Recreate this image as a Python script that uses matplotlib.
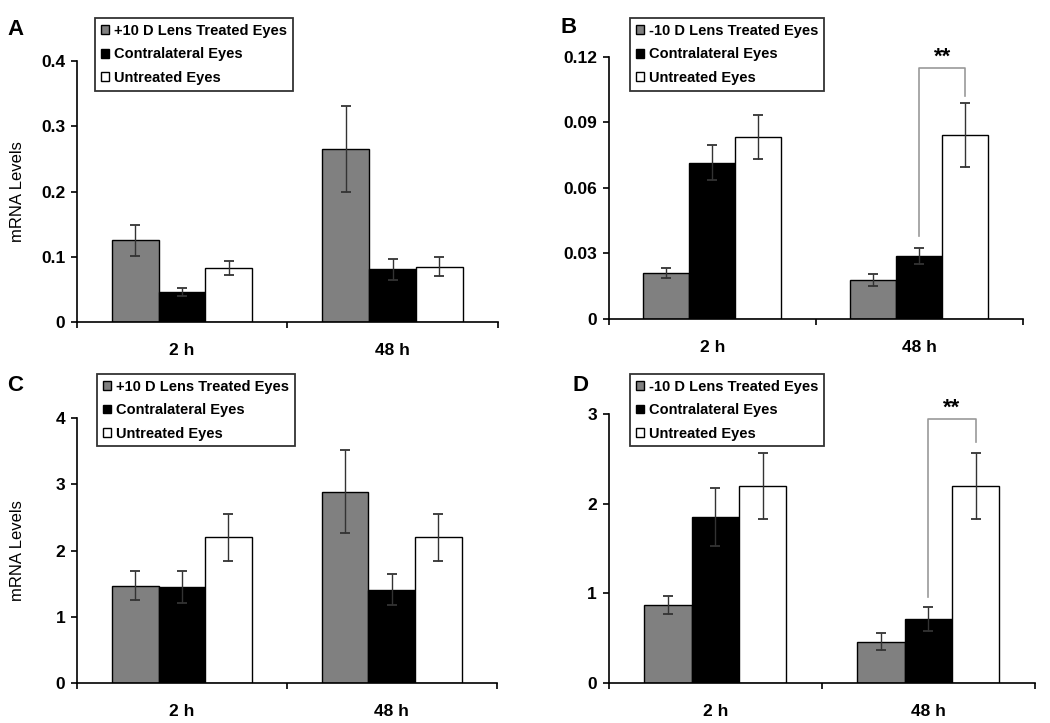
import numpy as np
import matplotlib
matplotlib.use('Agg')
from matplotlib import pyplot as plt

plt.rcParams['font.family'] = ['Liberation Sans', 'DejaVu Sans']

groups = ['2 h', '48 h']
series = ['Treated', 'Contralateral Eyes', 'Untreated Eyes']
colors = ['#808080', '#000000', '#ffffff']

# panel A
a_treated = [0.125, 0.265]
a_treated_err = [0.024, 0.066]
a_contra = [0.046, 0.081]
a_contra_err = [0.006, 0.016]
a_untreated = [0.083, 0.085]
a_untreated_err = [0.011, 0.014]

# panel B
b_treated = [0.021, 0.018]
b_treated_err = [0.0024, 0.0027]
b_contra = [0.0716, 0.0289]
b_contra_err = [0.008, 0.0038]
b_untreated = [0.0835, 0.0843]
b_untreated_err = [0.010, 0.0145]

# panel C
c_treated = [1.47, 2.89]
c_treated_err = [0.22, 0.63]
c_contra = [1.45, 1.41]
c_contra_err = [0.24, 0.23]
c_untreated = [2.2, 2.2]
c_untreated_err = [0.36, 0.36]

# panel D
d_treated = [0.87, 0.46]
d_treated_err = [0.10, 0.10]
d_contra = [1.85, 0.71]
d_contra_err = [0.32, 0.13]
d_untreated = [2.2, 2.2]
d_untreated_err = [0.37, 0.37]

# significance brackets: (top, left leg bottom, right leg bottom)
b_bracket = [0.1148, 0.038, 0.1023]
d_bracket = [2.944, 0.96, 2.69]

plus_label = '+10 D Lens Treated Eyes'
minus_label = '-10 D Lens Treated Eyes'


def draw_panel(rect, letter, vals, errs, ylim, yticks, yticklabels, treated_label,
               legend_xy, ylabel=None, bracket=None, letter_xy=None):
    ax = fig.add_axes(rect)
    w = 0.222
    x = np.array([0.5, 1.5])
    handles = []
    labels = [treated_label, series[1], series[2]]
    for i in range(3):
        xi = x + (i - 1) * w
        b = ax.bar(xi, vals[i], width=w, color=colors[i], edgecolor='black',
                   linewidth=1.0, zorder=2)
        ax.errorbar(xi, vals[i], yerr=errs[i], fmt='none', ecolor='#333333',
                    elinewidth=1.0, capsize=3.5, capthick=1.3, zorder=3)
        handles.append(b)
    ax.set_xlim(0, 2)
    ax.set_ylim(*ylim)
    ax.set_yticks(yticks)
    ax.set_yticklabels(yticklabels, fontsize=12.5, fontweight='bold')
    ax.set_xticks([0, 1, 2])
    ax.set_xticklabels([])
    ax.set_xticks(x, minor=True)
    ax.set_xticklabels(groups, minor=True, fontsize=12.5, fontweight='bold')
    ax.tick_params(axis='x', which='minor', length=0, pad=15)
    ax.tick_params(axis='x', which='major', length=4.5, width=1.2, direction='out')
    ax.tick_params(axis='y', length=4.5, width=1.2, direction='out', pad=4)
    for s in ['top', 'right']:
        ax.spines[s].set_visible(False)
    for s in ['left', 'bottom']:
        ax.spines[s].set_linewidth(1.2)
    if ylabel:
        ax.set_ylabel(ylabel, fontsize=12)
        ax.yaxis.set_label_coords(-0.124, 0.5)
    if bracket is not None:
        top, lb, rb = bracket
        xl = x[1]
        xr = x[1] + w
        ax.plot([xl, xl, xr, xr], [lb, top, top, rb], color='#999999',
                linewidth=1.2, zorder=1, clip_on=False)
        ax.text((xl + xr) / 2, top + (ylim[1] - ylim[0]) * 0.002, '**',
                ha='center', va='bottom', fontsize=16, fontweight='bold',
                clip_on=False)
    fig.text(letter_xy[0], letter_xy[1], letter, fontsize=16, fontweight='bold',
             ha='left', va='top')
    leg = fig.legend(handles, labels, loc='upper left', bbox_to_anchor=legend_xy,
                     frameon=True, fancybox=False, edgecolor='black',
                     prop={'weight': 'bold', 'size': 10.5}, handlelength=0.55,
                     handleheight=0.55, handletextpad=0.35, borderpad=0.4,
                     labelspacing=0.65, borderaxespad=0)
    leg.get_frame().set_linewidth(1.3)
    return ax


fig = plt.figure(figsize=(10.5, 7.23), dpi=100)

draw_panel([0.0733, 0.5546, 0.4007, 0.361], 'A',
           [a_treated, a_contra, a_untreated],
           [a_treated_err, a_contra_err, a_untreated_err],
           (0, 0.4), [0, 0.1, 0.2, 0.3, 0.4], ['0', '0.1', '0.2', '0.3', '0.4'],
           plus_label, (0.0905, 0.975), ylabel='mRNA Levels',
           letter_xy=(0.007, 0.974))

draw_panel([0.5797, 0.5588, 0.3946, 0.3624], 'B',
           [b_treated, b_contra, b_untreated],
           [b_treated_err, b_contra_err, b_untreated_err],
           (0, 0.12), [0, 0.03, 0.06, 0.09, 0.12], ['0', '0.03', '0.06', '0.09', '0.12'],
           minus_label, (0.600, 0.975), bracket=b_bracket,
           letter_xy=(0.534, 0.976))

draw_panel([0.0733, 0.0557, 0.3997, 0.3657], 'C',
           [c_treated, c_contra, c_untreated],
           [c_treated_err, c_contra_err, c_untreated_err],
           (0, 4), [0, 1, 2, 3, 4], ['0', '1', '2', '3', '4'],
           plus_label, (0.0924, 0.483), ylabel='mRNA Levels',
           letter_xy=(0.007, 0.482))

draw_panel([0.5797, 0.0557, 0.406, 0.3717], 'D',
           [d_treated, d_contra, d_untreated],
           [d_treated_err, d_contra_err, d_untreated_err],
           (0, 3), [0, 1, 2, 3], ['0', '1', '2', '3'],
           minus_label, (0.600, 0.483), bracket=d_bracket,
           letter_xy=(0.545, 0.482))

fig.savefig('out.png', dpi=100)
